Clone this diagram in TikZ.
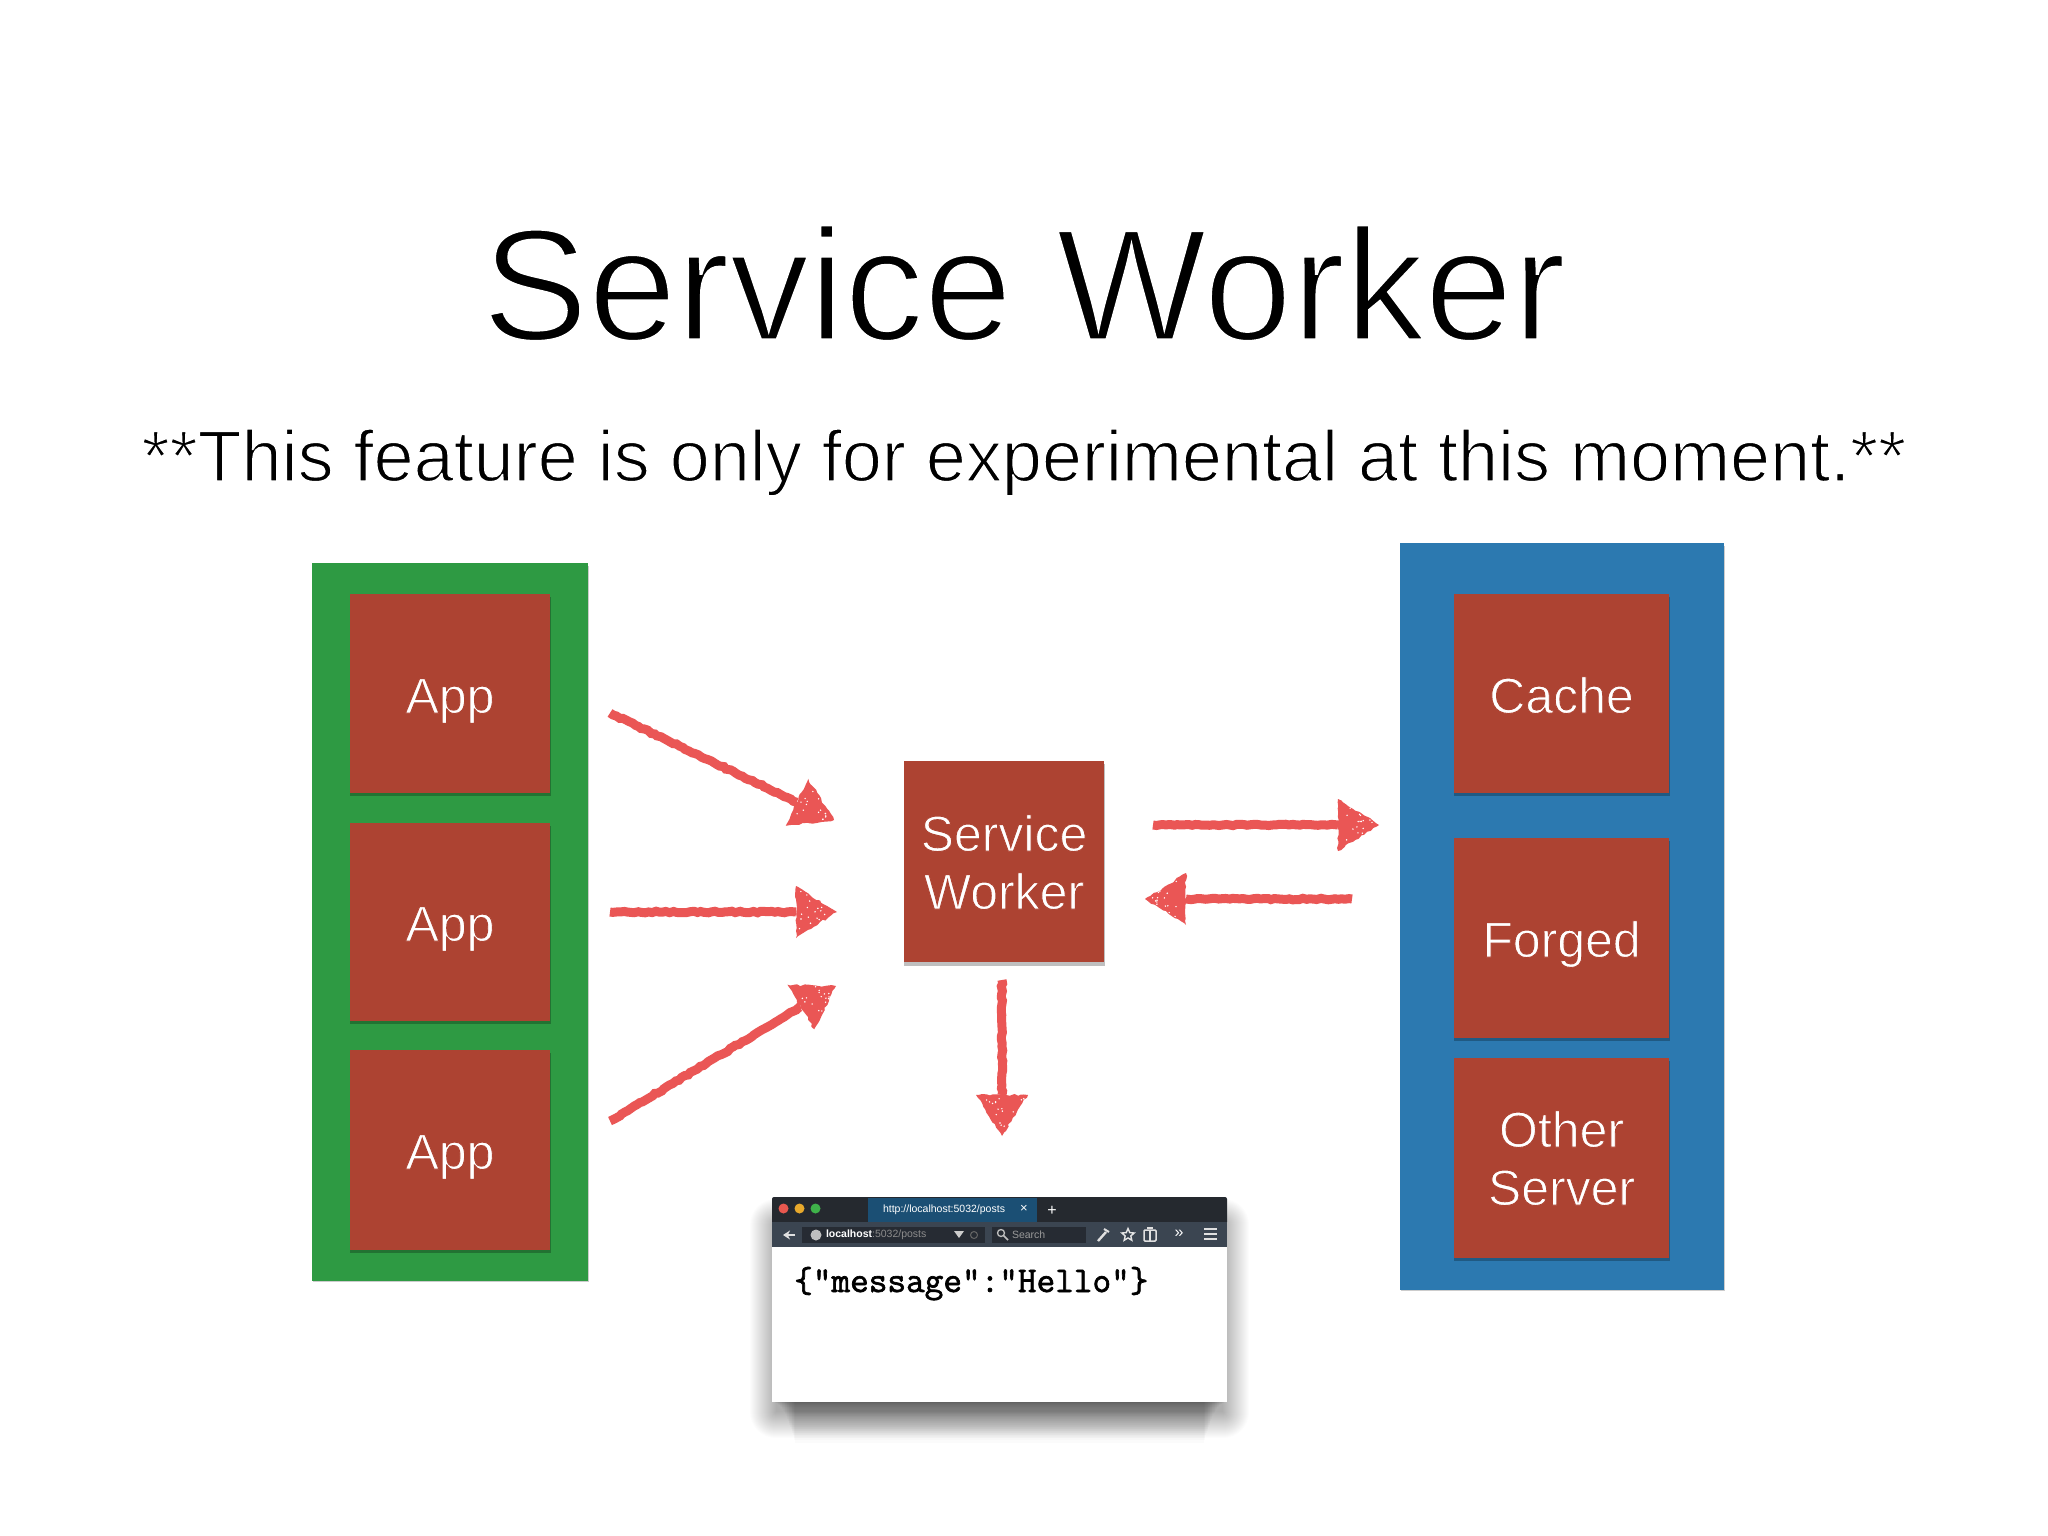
\documentclass[tikz,border=0pt]{standalone}
\usepackage{fontspec}
\setmainfont{Liberation Sans}
\newfontfamily\jsonfont{Latin Modern Mono}[FakeBold=1.8]
\usetikzlibrary{calc,arrows.meta,shapes.geometric,decorations.pathmorphing}
\definecolor{boxred}{HTML}{AD4332}
\definecolor{panelgreen}{HTML}{2E9A43}
\definecolor{panelblue}{HTML}{2C79B0}
\definecolor{arrowred}{HTML}{EA5655}
\definecolor{stripdark}{HTML}{25292F}
\definecolor{toolbar}{HTML}{3B4551}
\definecolor{fielddark}{HTML}{262B33}
\definecolor{tabblue}{HTML}{1B4F74}
\newcommand{\thinwhite}[2]{\special{pdf:code q 2 Tr #1 w 1 1 1 RG}#2\special{pdf:code Q}}
\newcommand{\thinred}[1]{\special{pdf:code q 2 Tr 0.9 w 0.678 0.263 0.196 RG}#1\special{pdf:code Q}}
\tikzset{
  panel/.style={draw=none,inner sep=0pt,outer sep=0pt},
  redbox/.style={fill=boxred,inner sep=0pt,outer sep=0pt},
  boxtext/.style={inner sep=0pt,outer sep=0pt,anchor=base,text=white,font=\fontsize{50}{50}\selectfont},
  roughstroke/.style={decorate,decoration={random steps,segment length=3.5pt,amplitude=0.8pt}},
  roughhead/.style={decorate,decoration={random steps,segment length=3.5pt,amplitude=1.1pt}},
  shaftline/.style={draw=arrowred,line width=9pt,roughstroke},
  headfill/.style={fill=arrowred,roughhead},
  dot/.style={circle,inner sep=0pt,minimum size=10pt},
  tiny/.style={inner sep=0pt,outer sep=0pt,font=\fontsize{10.5}{12}\selectfont},
  iconline/.style={draw=white!88!black,line width=1.5pt},
}
\newcommand{\hlarrow}[2]{%
  \coordinate (hb) at ($(#2)!41pt!(#1)$);
  \draw[shaftline] (#1) -- (hb);
  \fill[headfill] (#2) -- ($(hb)!26pt!90:(#2)$) -- ($(hb)!26pt!-90:(#2)$) -- cycle;
  \foreach \k in {1,...,16}{
    \pgfmathsetmacro\ru{0.08+0.75*rnd}
    \pgfmathsetmacro\ro{(2*rnd-1)*24*(1-\ru)}
    \fill[white] ($(hb)!\ru!(#2)!\ro pt!90:(#2)$) circle (0.8pt);
  }
}
\newcommand{\softbox}[5]{% x0 y0 x1 y1 layers
  \foreach \i in {0,1,...,#5}{
    \fill[black,opacity=0.012,rounded corners=\i pt]
      (#1-\i,#2-\i) rectangle (#3+\i,#4+\i);
  }%
}
\begin{document}
\begin{tikzpicture}[x=1pt,y=-1pt]
\useasboundingbox (0,0) rectangle (2048,1536);
\fill[white] (0,0) rectangle (2048,1536);
\pgfmathsetseed{42}

% texts
\node[anchor=base,inner sep=0pt,font=\fontsize{159}{159}\selectfont] (title) at (1024,340) {\thinwhite{3.2}{Service Worker}};
\node[anchor=base,inner sep=0pt,font=\fontsize{72}{72}\selectfont] (subtitle) at (1024,481) {\thinwhite{1.5}{**This feature is only for experimental at this moment.**}};

% panels
\fill[black,opacity=.2] (313,566) rectangle (589,1282);
\node[panel,fill=panelgreen,minimum width=276pt,minimum height=718pt] (greenpanel) at (450,922) {};
\fill[black,opacity=.2] (1401,546) rectangle (1725,1291);
\node[panel,fill=panelblue,minimum width=324pt,minimum height=747pt] (bluepanel) at (1562,916.5) {};

% box shadows
\foreach \a/\b/\c/\d in {350/594/550/793,350/823/550/1021,350/1050/550/1250,1454/594/1669/793,1454/838/1669/1038,1454/1058/1669/1258,904/761/1104/963}{
  \fill[black,opacity=.25] (\a,\b+3) rectangle (\c+1,\d+2.5);
}
% boxes
\node[redbox,minimum width=200pt,minimum height=199pt] (app1) at (450,693.5) {};
\node[redbox,minimum width=200pt,minimum height=198pt] (app2) at (450,922) {};
\node[redbox,minimum width=200pt,minimum height=200pt] (app3) at (450,1150) {};
\node[redbox,minimum width=215pt,minimum height=199pt] (cache) at (1561.5,693.5) {};
\node[redbox,minimum width=215pt,minimum height=200pt] (forged) at (1561.5,938) {};
\node[redbox,minimum width=215pt,minimum height=200pt] (other) at (1561.5,1158) {};
\node[redbox,minimum width=200pt,minimum height=201pt] (sw) at (1004,861.5) {};
% box labels
\node[boxtext] (t1) at (450,713) {\thinred{App}};
\node[boxtext] (t2) at (450,941) {\thinred{App}};
\node[boxtext] (t3) at (450,1169) {\thinred{App}};
\node[boxtext] (t4) at (1561.5,713) {\thinred{Cache}};
\node[boxtext] (t5) at (1561.5,957) {\thinred{Forged}};
\node[boxtext] (t6) at (1561.5,1147) {\thinred{Other}};
\node[boxtext] (t7) at (1561.5,1205) {\thinred{Server}};
\node[boxtext] (t8) at (1004,851) {\thinred{Service}};
\node[boxtext] (t9) at (1004,909) {\thinred{Worker}};

% arrows
\coordinate (a1s) at (610,713); \coordinate (a1t) at (834,820);
\coordinate (a2s) at (610,912); \coordinate (a2t) at (837,912);
\coordinate (a3s) at (610,1121); \coordinate (a3t) at (836,986);
\coordinate (a4s) at (1002,980); \coordinate (a4t) at (1002,1136);
\coordinate (a5s) at (1153,825); \coordinate (a5t) at (1379,825);
\coordinate (a6s) at (1352,899); \coordinate (a6t) at (1145,899);
\hlarrow{a1s}{a1t}
\hlarrow{a2s}{a2t}
\hlarrow{a3s}{a3t}
\hlarrow{a4s}{a4t}
\hlarrow{a5s}{a5t}
\hlarrow{a6s}{a6t}

% browser window
\softbox{776}{1225}{1223}{1412}{26}
\foreach \i in {1,2,...,30}{
  \pgfmathsetmacro\bd{1403+40*(\i/30)^2}
  \fill[black,opacity=.014] (774+0.7*\i,1398) rectangle (1225-0.7*\i,\bd);
}
\node[panel,fill=white,minimum width=455pt,minimum height=205pt] (browser) at (999.5,1299.5) {};
\fill[stripdark,rounded corners=2pt] (772,1197) rectangle (1227,1224);
\fill[tabblue] (867.5,1198) rectangle (1036.5,1222);
\fill[toolbar] (772,1222) rectangle (1227,1247);
\fill[fielddark] (802,1227) rectangle (985,1243);
\fill[fielddark] (992,1227) rectangle (1086,1243);
\node[dot,fill={rgb,255:red,232;green,88;blue,79}] (d1) at (783.5,1208.5) {};
\node[dot,fill={rgb,255:red,232;green,169;blue,44}] (d2) at (799.5,1208.5) {};
\node[dot,fill={rgb,255:red,63;green,179;blue,74}] (d3) at (815.5,1208.5) {};
\node[tiny,text=white] (tabtext) at (944,1210) {http://localhost:5032/posts};
\node[tiny,text=white,font=\fontsize{13}{13}\selectfont] (tabx) at (1024,1209) {×};
\node[tiny,text=white,font=\fontsize{16}{16}\selectfont] (tabplus) at (1052,1211) {+};
\draw[iconline,line width=2pt,-{Stealth[length=7pt,width=9pt]}] (795,1235) -- (783,1235);
\node[circle,fill=white!75!black,inner sep=0pt,minimum size=11pt] (globe) at (816,1235) {};
\node[tiny,anchor=west,text=white] (urltext) at (826,1235) {\textbf{localhost}\textcolor{white!55!black}{:5032/posts}};
\fill[white!80!black] (954,1231) -- (964,1231) -- (959,1238) -- cycle;
\draw[white!40!black,line width=1pt] (974,1235) circle (3.5pt);
\draw[white!75!black,line width=1.3pt] (1001,1233) circle (3.5pt);
\draw[white!75!black,line width=1.6pt] (1003.5,1235.5) -- (1008,1240);
\node[tiny,anchor=west,text=white!60!black] (searchtext) at (1012,1235) {Search};
\draw[iconline,line width=2.4pt] (1098,1241) -- (1106,1232);
\draw[iconline,line width=2pt] (1104,1229) -- (1109,1232);
\node[star,star points=5,star point ratio=2.2,draw=white!90!black,line width=1.4pt,inner sep=0pt,minimum size=13pt] (staricon) at (1128,1235) {};
\draw[iconline,rounded corners=1pt] (1144,1230) rectangle (1156,1241);
\draw[iconline] (1147,1228) -- (1153,1228);
\draw[iconline] (1150,1230) -- (1150,1241);
\node[tiny,text=white,font=\fontsize{16}{16}\selectfont] (more) at (1179,1233.5) {»};
\foreach \yy in {1229,1234,1239}{\draw[iconline,line width=2.2pt] (1204,\yy) -- (1217,\yy);}
\node[inner sep=0pt,anchor=base west,font=\fontsize{36.2}{36}\jsonfont\selectfont] (json) at (794,1292) {\{"message":"Hello"\}};
\end{tikzpicture}
\end{document}
